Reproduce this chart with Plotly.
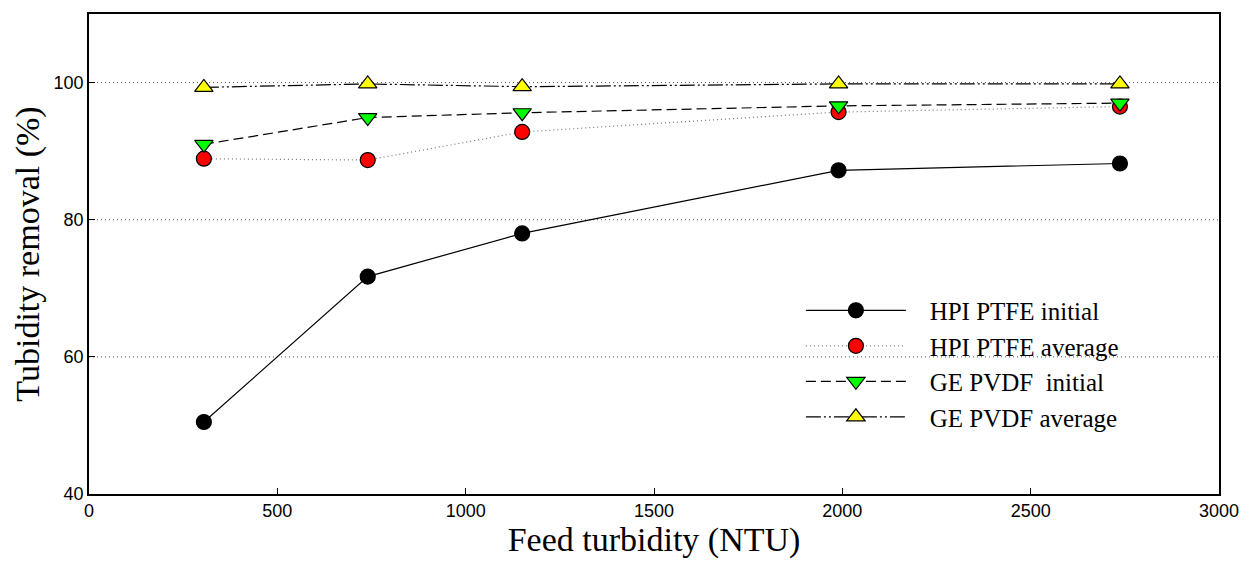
import plotly.graph_objects as go

feed = [305, 740, 1150, 1990, 2737]
hpi_initial = [50.5, 71.7, 78.0, 87.2, 88.2]
hpi_average = [88.9, 88.7, 92.8, 95.7, 96.5]
ge_initial = [91.0, 94.9, 95.6, 96.6, 97.0]
ge_average = [99.3, 99.8, 99.4, 99.8, 99.8]

names = ["HPI PTFE initial", "HPI PTFE average", "GE PVDF  initial", "GE PVDF average"]
series = [hpi_initial, hpi_average, ge_initial, ge_average]
colors = ["black", "red", "#00ff00", "#ffff00"]
symbols = ["circle", "circle", "triangle-down", "triangle-up"]
dashes = ["solid", "1px,3px", "10px,5px", "15px,3px,2px,3px,2px,3px"]
lcolors = ["black", "#777777", "black", "black"]

fig = go.Figure()
for n, s, c, sym, d, lc in zip(names, series, colors, symbols, dashes, lcolors):
    fig.add_trace(go.Scatter(
        x=feed, y=s, name="\u00a0\u00a0\u00a0" + n, mode="lines+markers",
        line=dict(color=lc, width=1.2, dash=d),
        marker=dict(symbol=sym, size=16 if sym != "circle" else 15, color=c,
                    line=dict(color="black", width=1.2)),
    ))

fig.update_layout(
    width=1256, height=569,
    margin=dict(l=89, r=37, t=12, b=75),
    paper_bgcolor="white", plot_bgcolor="white",
    showlegend=True,
    legend=dict(x=0.63, y=0.43, xanchor="left", yanchor="top",
                font=dict(family="Liberation Serif", size=25, color="black"),
                bgcolor="rgba(0,0,0,0)", itemwidth=100, tracegroupgap=0),
    font=dict(family="Liberation Sans", size=18, color="black"),
)
fig.update_xaxes(range=[0, 3000], tickvals=[0, 500, 1000, 1500, 2000, 2500, 3000],
                 ticks="inside", ticklen=6, tickcolor="black",
                 showline=True, linecolor="black", linewidth=1.5, mirror=True,
                 showgrid=False, zeroline=False,
                 tickfont=dict(family="Liberation Sans", size=18),
                 title=dict(text="Feed turbidity (NTU)",
                            font=dict(family="Liberation Serif", size=34), standoff=6))
fig.update_yaxes(range=[40, 110], tickvals=[40, 60, 80, 100],
                 ticks="inside", ticklen=6, tickcolor="black",
                 showline=True, linecolor="black", linewidth=1.5, mirror=True,
                 showgrid=False, zeroline=False,
                 tickfont=dict(family="Liberation Sans", size=18),
                 title=dict(text="Tubidity removal (%)",
                            font=dict(family="Liberation Serif", size=34), standoff=4))
for g in [60, 80, 100]:
    fig.add_shape(type="line", xref="paper", x0=0, x1=1, yref="y", y0=g, y1=g,
                  line=dict(color="#555555", width=1, dash="1px,3px"), layer="below")

fig.write_html("out.html")
